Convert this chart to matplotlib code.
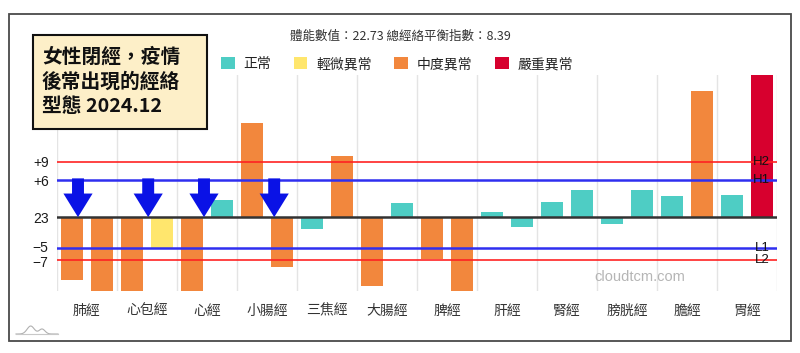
import matplotlib
matplotlib.use("Agg")
import matplotlib.pyplot as plt
from matplotlib.patches import Rectangle, Patch
from matplotlib.transforms import ScaledTranslation
import numpy as np

plt.rcParams['font.family'] = ['Noto Sans CJK TC', 'DejaVu Sans']

# ---------------- data ----------------
categories = ['肺經', '心包經', '心經', '小腸經', '三焦經', '大腸經',
              '脾經', '肝經', '腎經', '膀胱經', '膽經', '胃經']
left_values = [-10.2, -12.0, -12.0, 15.3, -1.9, -11.2, -6.8, 0.9, 2.4, -1.1, 3.5, 3.6]
right_values = [-12.0, -5.1, 2.8, -8.1, 9.9, 2.3, -12.0, -1.6, 4.4, 4.4, 20.5, 23.1]
left_levels = ['中度異常', '中度異常', '中度異常', '中度異常', '正常', '中度異常',
               '中度異常', '正常', '正常', '正常', '正常', '正常']
right_levels = ['中度異常', '輕微異常', '正常', '中度異常', '中度異常', '正常',
                '中度異常', '正常', '正常', '正常', '中度異常', '嚴重異常']
legend_labels = ['正常', '輕微異常', '中度異常', '嚴重異常']
ref_values = [9, 6, 0, -5, -7]
ref_ticklabels = ['+9', '+6', '23', '\u22125', '\u22127']
ref_names = {9: 'H2', 6: 'H1', -5: 'L1', -7: 'L2'}
arrow_x = [-0.15, 1.02, 1.95, 3.12]
arrow_top = 6.3
header = '體能數值：22.73 總經絡平衡指數：8.39'
title_lines = ['女性閉經，疫情', '後常出現的經絡', '型態 2024.12']
watermark = 'cloudtcm.com'
y_min, y_max = -12.0, 23.1

# ---------------- style ----------------
level_colors = {'正常': '#4ECDC4', '輕微異常': '#FFE66D',
                '中度異常': '#F2873D', '嚴重異常': '#D7002E'}

W, H = 800, 353
fig = plt.figure(figsize=(W / 100, H / 100), dpi=100)

def fx(px):
    return px / W

def fy(py):
    return 1 - py / H

# outer frame
fig.patches.append(Rectangle((fx(9), fy(341)), fx(782), 327 / H,
                             transform=fig.transFigure, fill=False,
                             edgecolor='#4a4a4a', lw=1.3))

ax = fig.add_axes([fx(57), fy(291), 720 / W, 216 / H])
x = np.arange(len(categories))
bw = 0.38
ax.bar(x - 0.25, left_values, width=bw,
       color=[level_colors[l] for l in left_levels], zorder=2)
ax.bar(x + 0.25, right_values, width=bw,
       color=[level_colors[l] for l in right_levels], zorder=2)

ax.set_xlim(-0.5, len(categories) - 0.5)
ax.set_ylim(y_min, y_max)

# vertical grid lines at category boundaries
for b in np.arange(-0.5, len(categories) + 0.5, 1.0):
    ax.axvline(b, color='#e4e4e4', lw=1, zorder=1)

# reference lines
line_style = {9: ('#ff2222', 1.2), 6: ('#2f2ff0', 1.8), 0: ('#333333', 1.8),
              -5: ('#2f2ff0', 1.8), -7: ('#ff2222', 1.2)}
for v in ref_values:
    c, lw = line_style[v]
    ax.axhline(v, color=c, lw=lw, zorder=3)
for v, name in ref_names.items():
    ax.text(0.990, v, name, transform=ax.get_yaxis_transform(),
            ha='right', va='center', fontsize=9.5, color='#111111',
            family=['Liberation Sans', 'DejaVu Sans'], zorder=4)

ax.set_yticks(ref_values)
ax.set_yticklabels(ref_ticklabels, fontsize=10, color='#1a1a1a',
                   family=['Liberation Sans', 'DejaVu Sans'])
ax.set_xticks(x)
ax.set_xticklabels(categories, fontsize=10, color='#333333')
ax.tick_params(axis='both', length=0)
ax.tick_params(axis='y', pad=6)
ax.tick_params(axis='x', pad=9)
for s in ax.spines.values():
    s.set_visible(False)
# nudge the two close labels apart slightly
for lab, v in zip(ax.get_yticklabels(), ref_values):
    if v == -5:
        lab.set_transform(lab.get_transform() + ScaledTranslation(0, 1.5 / 100, fig.dpi_scale_trans))
    elif v == -7:
        lab.set_transform(lab.get_transform() + ScaledTranslation(0, -1.5 / 100, fig.dpi_scale_trans))

# arrows
for ax_x in arrow_x:
    ax.annotate('', xy=(ax_x, 0), xytext=(ax_x, arrow_top),
                arrowprops=dict(facecolor='#0a12e6', edgecolor='none',
                                width=8.6, headwidth=21, headlength=17,
                                shrink=0),
                zorder=5, annotation_clip=False)

# header
fig.text(fx(400), fy(36), header, ha='center', va='center',
         fontsize=9.0, color='#333333')

# legend
handles = [Patch(facecolor=level_colors[l], edgecolor='none') for l in legend_labels]
fig.legend(handles, legend_labels, loc='center', ncol=4,
           bbox_to_anchor=(fx(397), fy(64)), frameon=False, fontsize=10,
           handlelength=1.0, handleheight=1.0, handletextpad=0.65,
           columnspacing=1.6, labelcolor='#222222')

# title box
fig.patches.append(Rectangle((fx(33), fy(129)), fx(174), 94 / H,
                             transform=fig.transFigure, facecolor='#fdefc8',
                             edgecolor='#111111', lw=1.5, zorder=6))
for line, yc in zip(title_lines, [57, 81.5, 106]):
    fig.text(fx(42), fy(yc), line, ha='left', va='center', fontsize=14.2,
             fontweight='bold', color='#111111', zorder=7)

# watermark
fig.text(fx(640), fy(277), watermark, ha='center', va='center',
         fontsize=10.5, color='#b5b5b5',
         family=['Liberation Sans', 'DejaVu Sans'])

# small logo
t = np.linspace(0, 1, 60)
lx = 16 + 42 * t
ly = 334 - 8 * np.exp(-((t - 0.35) / 0.12) ** 2) - 5 * np.exp(-((t - 0.62) / 0.1) ** 2)
fig.lines.append(plt.Line2D(fx(lx), fy(ly), transform=fig.transFigure,
                            color='#b0b0b0', lw=0.8))
fig.lines.append(plt.Line2D([fx(16), fx(58)], [fy(334), fy(334)],
                            transform=fig.transFigure, color='#c8c8c8', lw=0.8))

fig.savefig('out.png', dpi=100)
